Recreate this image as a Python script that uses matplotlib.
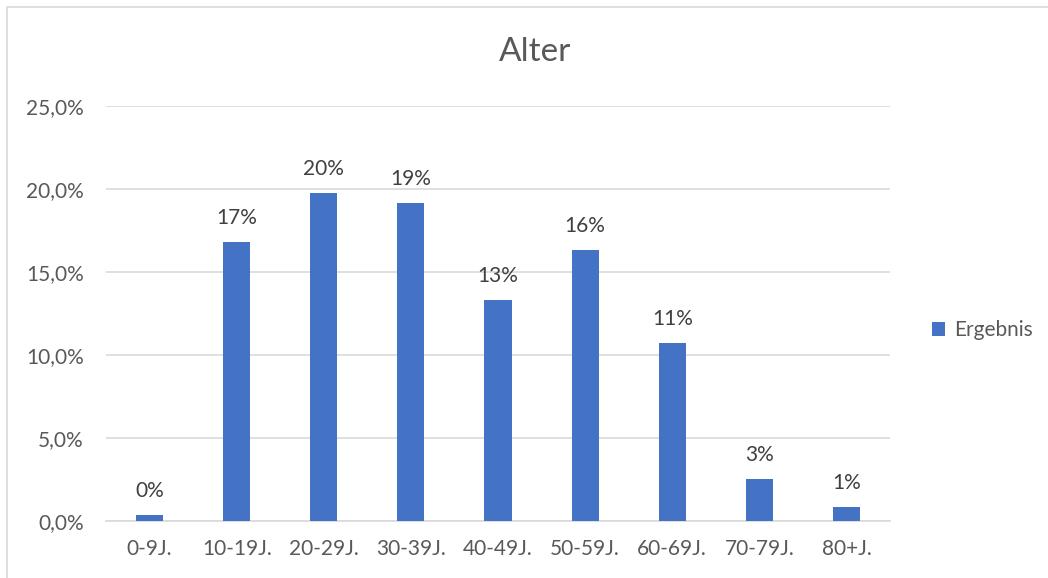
import matplotlib
matplotlib.use('Agg')
import matplotlib.pyplot as plt
from matplotlib.patches import Rectangle
from matplotlib.ticker import FuncFormatter

plt.rcParams['font.family'] = ['Lato', 'DejaVu Sans']

categories = ['0-9J.', '10-19J.', '20-29J.', '30-39J.', '40-49J.', '50-59J.', '60-69J.', '70-79J.', '80+J.']
values = [0.36, 16.8, 19.75, 19.15, 13.3, 16.3, 10.7, 2.55, 0.85]
labels = ['0%', '17%', '20%', '19%', '13%', '16%', '11%', '3%', '1%']
yticks = [0, 5, 10, 15, 20, 25]

text_col = '#595959'
bar_col = '#4472C4'
grid_col = '#D9D9D9'

fig = plt.figure(figsize=(10.48, 5.78), dpi=100)
fig.patches.append(Rectangle((7 / 1048, -0.05), 1.2, 1.05 - 7 / 578, transform=fig.transFigure,
                             fill=False, edgecolor='#D9D9D9', linewidth=1.2))

ax = fig.add_axes([106 / 1048, 1 - 521 / 578, 784 / 1048, (521 - 106) / 578])
x = range(len(categories))
bars = ax.bar(x, values, width=0.31, color=bar_col, label='Ergebnis', zorder=3)

for b, lab in zip(bars, labels):
    ax.text(b.get_x() + b.get_width() / 2, b.get_height() + 0.85, lab,
            ha='center', va='bottom', fontsize=15, color='#404040')

ax.set_xlim(-0.5, len(categories) - 0.5)
ax.set_ylim(0, 25)
ax.set_yticks(yticks)
ax.yaxis.set_major_formatter(FuncFormatter(lambda v, p: f'{v:.1f}%'.replace('.', ',')))
ax.set_xticks(list(x))
ax.set_xticklabels(categories)
ax.tick_params(axis='both', length=0, labelsize=15, labelcolor=text_col)
ax.tick_params(axis='y', pad=16)
ax.tick_params(axis='x', pad=13)
ax.grid(axis='y', color=grid_col, linewidth=1.2, zorder=0)
for s in ['top', 'right', 'left']:
    ax.spines[s].set_visible(False)
ax.spines['bottom'].set_color(grid_col)
ax.spines['bottom'].set_linewidth(1.2)

fig.text(535 / 1048, 1 - 52 / 578, 'Alter', ha='center', va='center', fontsize=24, color=text_col)
fig.legend(handles=[bars], labels=['Ergebnis'], loc='center left', bbox_to_anchor=(913 / 1048, 1 - 330 / 578),
           frameon=False, fontsize=15, handlelength=0.65, handleheight=0.65, handletextpad=0.4,
           labelcolor=text_col)

fig.savefig('out.png', dpi=100, facecolor='white')
